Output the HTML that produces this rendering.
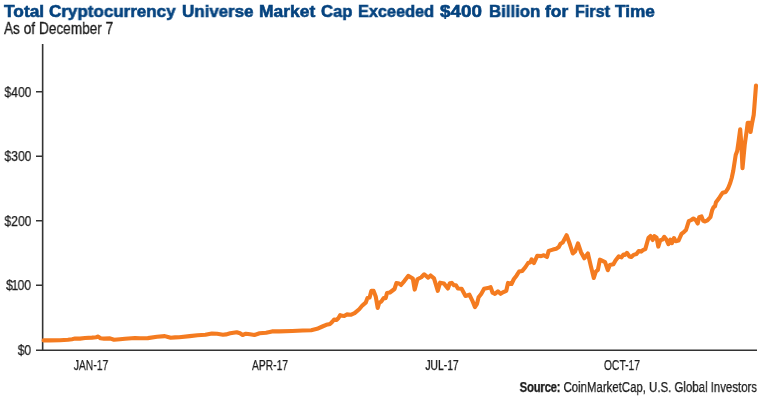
<!DOCTYPE html>
<html><head><meta charset="utf-8"><style>
html,body{margin:0;padding:0;background:#fff;}
body{width:765px;height:400px;position:relative;overflow:hidden;font-family:"Liberation Sans",sans-serif;}
.t{position:absolute;white-space:nowrap;transform-origin:0 0;will-change:transform;}
#title{position:absolute;left:0;top:0.4px;font-size:17.2px;font-weight:bold;color:#05437f;line-height:22px;-webkit-text-stroke:0.6px #05437f;}
#sub{left:3.7px;top:19.3px;font-size:16.3px;color:#1c1c1c;-webkit-text-stroke:0.3px #1c1c1c;line-height:18px;transform:scaleX(0.838);}
.yl{font-size:14.6px;color:#1c1c1c;-webkit-text-stroke:0.25px #1c1c1c;line-height:14px;transform:scaleX(0.83);transform-origin:100% 0;text-align:right;right:734px;}
.xl{font-size:14.3px;color:#1c1c1c;-webkit-text-stroke:0.25px #1c1c1c;line-height:14px;transform:scaleX(0.722);transform-origin:50% 0;width:80px;text-align:center;}
#src{right:8px;top:378.6px;font-size:15.4px;color:#1c1c1c;-webkit-text-stroke:0.25px #1c1c1c;line-height:16px;transform:scaleX(0.742);transform-origin:100% 0;}
#src b{letter-spacing:-0.35px;}
svg{position:absolute;left:0;top:0;}
</style></head><body>
<div id="title"><span class="t" style="left:4.1px;transform:scaleX(1.008)">Total</span><span class="t" style="left:48.9px;transform:scaleX(0.989)">Cryptocurrency</span><span class="t" style="left:181.5px;transform:scaleX(0.985)">Universe</span><span class="t" style="left:259.1px;transform:scaleX(1.014)">Market</span><span class="t" style="left:321.1px;transform:scaleX(0.966)">Cap</span><span class="t" style="left:358.2px;transform:scaleX(0.947)">Exceeded</span><span class="t" style="left:440.0px;transform:scaleX(1.095)">$400</span><span class="t" style="left:488.5px;transform:scaleX(0.977)">Billion</span><span class="t" style="left:545.2px;transform:scaleX(1.013)">for</span><span class="t" style="left:574.5px;transform:scaleX(0.939)">First</span><span class="t" style="left:614.8px;transform:scaleX(1.002)">Time</span></div>
<div class="t" id="sub">As of December 7</div>
<svg width="765" height="400" viewBox="0 0 765 400">
<g stroke="#333" stroke-width="1.6" fill="none">
<path d="M42.65,44 V350.3"/>
<path d="M36,350.3 H757"/>
<path d="M36,91.8 H43 M36,156.3 H43 M36,220.8 H43 M36,285.3 H43"/>
</g>
<path d="M43.6,340.4 L50.0,340.4 L60.0,340.2 L68.0,339.8 L72.0,339.2 L75.0,338.6 L80.0,338.6 L85.0,338.0 L92.0,337.6 L96.0,337.2 L98.2,336.6 L100.5,338.2 L104.0,338.6 L110.0,338.4 L114.0,339.8 L120.0,339.2 L125.0,338.8 L135.0,338.0 L140.0,338.3 L147.8,338.1 L157.0,336.8 L164.8,336.1 L168.0,337.0 L170.7,337.8 L175.0,337.4 L179.2,337.2 L189.7,336.1 L197.5,335.2 L205.4,334.8 L211.9,333.5 L217.1,333.8 L223.0,334.8 L226.0,334.4 L230.2,333.3 L236.7,332.2 L240.0,333.3 L242.6,335.0 L245.9,333.7 L250.0,334.3 L254.4,335.0 L259.6,333.3 L266.1,332.7 L272.0,331.4 L279.2,331.4 L292.3,331.0 L302.7,330.5 L311.2,330.2 L317.1,328.8 L322.4,326.5 L326.3,324.8 L330.2,323.9 L332.5,321.5 L334.1,319.6 L336.7,319.9 L338.5,318.0 L340.2,315.1 L342.0,315.8 L344.2,316.0 L346.8,314.4 L350.7,314.8 L354.6,313.1 L359.2,309.2 L362.5,305.3 L365.7,302.7 L367.4,298.1 L369.6,297.5 L371.3,290.9 L373.6,290.9 L375.8,296.8 L377.7,307.9 L379.2,302.7 L381.4,301.4 L383.6,298.1 L385.7,298.1 L387.0,293.1 L389.9,292.5 L394.5,289.0 L396.4,283.1 L399.1,283.5 L401.0,285.0 L404.3,281.1 L408.2,275.9 L412.8,278.5 L414.7,289.6 L417.4,279.2 L421.3,277.2 L424.2,274.3 L428.1,277.6 L430.6,275.5 L434.0,278.4 L437.8,290.8 L440.0,282.7 L444.0,283.6 L447.9,288.5 L449.8,283.3 L451.8,282.9 L454.0,285.3 L456.0,285.3 L457.9,288.5 L461.6,288.8 L465.5,296.0 L469.4,294.7 L472.3,300.6 L474.9,307.1 L477.0,303.8 L478.6,297.3 L481.2,294.0 L484.1,288.8 L487.7,288.1 L490.6,287.1 L492.6,292.7 L494.9,293.8 L497.9,291.4 L500.6,293.8 L503.4,292.1 L506.3,290.8 L508.0,282.9 L511.5,284.0 L513.9,279.0 L516.5,275.7 L519.1,271.5 L522.3,270.9 L525.5,267.0 L528.1,263.0 L530.4,262.2 L531.6,259.4 L534.0,263.0 L537.2,255.8 L541.1,256.1 L543.8,255.2 L547.0,257.0 L548.7,250.9 L552.9,249.6 L556.2,248.7 L558.8,247.0 L560.5,243.7 L562.7,242.4 L566.6,235.2 L569.9,244.3 L572.8,253.5 L575.1,251.5 L578.0,243.4 L581.0,252.2 L584.3,258.3 L587.9,253.5 L590.8,265.9 L593.8,277.9 L595.7,271.8 L597.9,269.9 L599.9,259.7 L605.1,262.2 L607.8,270.2 L609.8,265.1 L613.4,264.3 L615.5,260.5 L618.8,256.3 L621.5,257.3 L623.5,254.5 L625.0,255.0 L626.9,252.8 L629.5,256.5 L631.3,257.0 L633.5,254.9 L636.5,254.0 L638.7,251.1 L641.1,251.6 L642.9,250.1 L645.3,249.1 L647.5,241.3 L648.5,237.7 L650.5,236.0 L652.7,240.0 L654.4,236.1 L656.6,237.7 L658.3,246.6 L660.2,240.3 L662.5,239.6 L664.2,236.8 L666.4,239.6 L668.4,244.2 L670.4,239.6 L671.9,243.2 L674.0,238.1 L675.8,241.3 L678.5,240.6 L681.5,233.8 L684.1,231.8 L686.0,230.0 L688.8,221.2 L691.3,220.0 L693.4,218.5 L695.9,220.2 L697.7,223.5 L699.2,217.2 L701.5,216.4 L703.2,220.9 L705.0,221.5 L707.4,220.4 L710.4,217.2 L712.1,210.4 L713.5,207.2 L715.0,206.2 L716.0,202.2 L719.0,198.3 L721.2,194.7 L722.7,192.8 L725.7,192.0 L728.0,188.4 L730.2,183.0 L731.7,178.0 L733.3,170.5 L735.7,155.0 L737.2,151.0 L738.7,140.5 L740.2,129.2 L741.4,145.0 L742.5,168.2 L744.7,145.0 L747.0,128.5 L747.7,122.8 L749.7,122.8 L750.6,132.0 L752.2,122.5 L753.7,115.0 L754.4,106.5 L756.0,85.5" fill="none" stroke="#f47b20" stroke-width="4.1" stroke-linejoin="round" stroke-linecap="round"/>
</svg>
<div class="t yl" style="top:85px">$400</div>
<div class="t yl" style="top:149px">$300</div>
<div class="t yl" style="top:214px">$200</div>
<div class="t yl" style="top:277.5px">$<span style="margin:0 -0.8px 0 -1.6px">1</span>00</div>
<div class="t yl" style="top:343.4px">$0</div>
<div class="t xl" style="left:51px;top:358.0px">JAN-17</div>
<div class="t xl" style="left:230px;top:358.0px">APR-17</div>
<div class="t xl" style="left:402.3px;top:358.0px">JUL-17</div>
<div class="t xl" style="left:582.1px;top:358.0px">OCT-17</div>
<div class="t" id="src"><b>Source:</b> CoinMarketCap, U.S. Global Investors</div>
</body></html>
